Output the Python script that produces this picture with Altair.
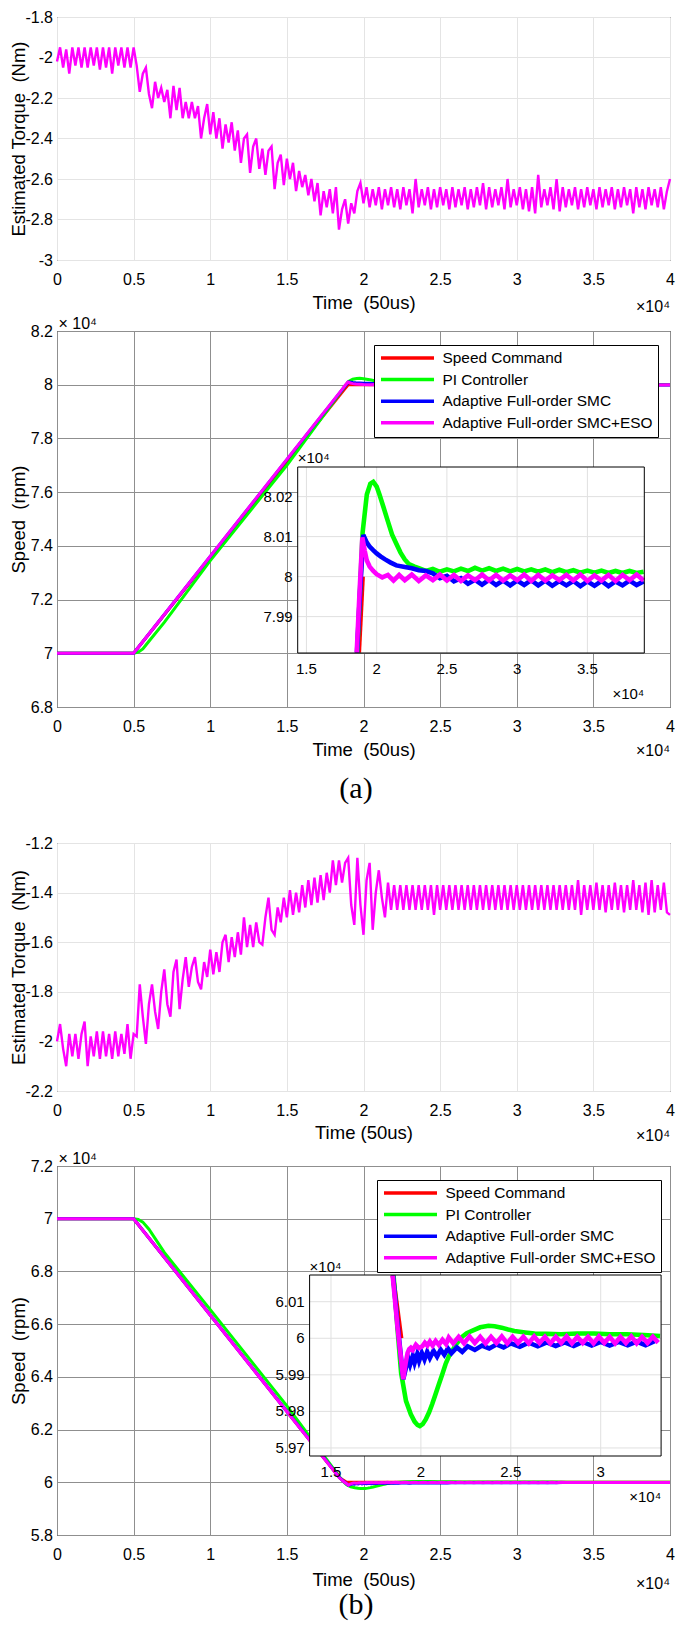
import altair as alt
import pandas as pd

FONT = "Liberation Sans"
W = 613
H1, H2, H3, H4 = 243, 376, 248, 369
SP1, SP2, SP3, SP4 = 71, 136, 75, 70

TIME_TICKS = [0, 0.5, 1, 1.5, 2, 2.5, 3, 3.5, 4]
TORQUE_A_TICKS = [-3, -2.8, -2.6, -2.4, -2.2, -2, -1.8]
TORQUE_B_TICKS = [-2.2, -2, -1.8, -1.6, -1.4, -1.2]
SPEED_A_TICKS = [6.8, 7, 7.2, 7.4, 7.6, 7.8, 8, 8.2]
SPEED_B_TICKS = [5.8, 6, 6.2, 6.4, 6.6, 6.8, 7, 7.2]
INSET_A_XTICKS = [1.5, 2, 2.5, 3, 3.5]
INSET_A_YTICKS = [7.99, 8.0, 8.01, 8.02]
INSET_B_XTICKS = [1.5, 2, 2.5, 3]
INSET_B_YTICKS = [5.97, 5.98, 5.99, 6.0, 6.01]

SERIES = ["Speed Command", "PI Controller", "Adaptive Full-order SMC", "Adaptive Full-order SMC+ESO"]
COLORS = ["#ff0000", "#00ff00", "#0000ff", "#ff00ff"]

# estimated torque samples, one every 0.02 (x10^4 steps)
TORQUE_STEP = 0.02
torque_a = [
    -2.02, -1.95, -2.05, -1.96, -2.08, -1.95, -2.04, -1.95, -2.05, -1.95,
    -2.05, -1.95, -2.04, -1.95, -2.06, -1.95, -2.05, -1.95, -2.08, -1.95,
    -2.04, -1.95, -2.05, -1.95, -2.05, -1.95, -2.04, -2.17, -2.08, -2.05,
    -2.18, -2.25, -2.12, -2.2, -2.15, -2.22, -2.16, -2.3, -2.14, -2.26,
    -2.15, -2.3, -2.22, -2.3, -2.22, -2.3, -2.24, -2.4, -2.3, -2.23,
    -2.38, -2.27, -2.4, -2.3, -2.45, -2.33, -2.42, -2.32, -2.46, -2.36,
    -2.52, -2.4, -2.38, -2.57, -2.44, -2.4, -2.55, -2.45, -2.58, -2.46,
    -2.44, -2.65, -2.52, -2.48, -2.63, -2.5, -2.6, -2.52, -2.66, -2.56,
    -2.64, -2.58, -2.68, -2.6, -2.71, -2.62, -2.78, -2.66, -2.74, -2.65,
    -2.77, -2.64, -2.85, -2.75, -2.7, -2.82, -2.72, -2.77, -2.66, -2.62,
    -2.72, -2.64, -2.74, -2.65, -2.73, -2.64, -2.75, -2.65, -2.73, -2.64,
    -2.74, -2.65, -2.75, -2.64, -2.73, -2.65, -2.77, -2.6, -2.74, -2.65,
    -2.73, -2.64, -2.75, -2.65, -2.74, -2.64, -2.73, -2.65, -2.75, -2.64,
    -2.74, -2.65, -2.73, -2.64, -2.75, -2.65, -2.74, -2.64, -2.73, -2.62,
    -2.75, -2.64, -2.74, -2.65, -2.73, -2.64, -2.75, -2.6, -2.74, -2.65,
    -2.73, -2.64, -2.75, -2.65, -2.76, -2.64, -2.77, -2.58, -2.74, -2.65,
    -2.73, -2.64, -2.75, -2.6, -2.76, -2.64, -2.74, -2.65, -2.73, -2.64,
    -2.75, -2.65, -2.74, -2.64, -2.73, -2.65, -2.75, -2.64, -2.74, -2.65,
    -2.73, -2.64, -2.75, -2.65, -2.74, -2.64, -2.73, -2.65, -2.77, -2.64,
    -2.74, -2.65, -2.75, -2.64, -2.73, -2.65, -2.74, -2.64, -2.75, -2.66,
    -2.6,
]
torque_b = [
    -2.0, -1.93, -2.03, -2.1, -1.97, -2.06, -1.97, -2.07, -1.97, -1.92,
    -2.1, -1.98, -2.06, -1.96, -2.07, -1.96, -2.06, -1.97, -2.07, -1.96,
    -2.06, -1.97, -2.05, -1.93, -2.07, -1.97, -1.98, -1.77, -1.9, -2.01,
    -1.85, -1.77, -1.88, -1.95, -1.8, -1.71, -1.85, -1.9, -1.72, -1.67,
    -1.87, -1.75, -1.66, -1.78, -1.7, -1.66, -1.76, -1.79, -1.68, -1.74,
    -1.63, -1.73, -1.64, -1.72, -1.6, -1.57, -1.68, -1.58, -1.66, -1.56,
    -1.65, -1.5, -1.62, -1.53, -1.62, -1.52, -1.6, -1.61, -1.5, -1.42,
    -1.55, -1.57, -1.46, -1.52, -1.42, -1.5, -1.39, -1.49, -1.4, -1.48,
    -1.37, -1.46, -1.35, -1.45, -1.34, -1.44, -1.33, -1.43, -1.32, -1.4,
    -1.27, -1.37, -1.27, -1.36, -1.28, -1.26, -1.45, -1.53, -1.26, -1.45,
    -1.57, -1.35, -1.28, -1.55, -1.4, -1.31, -1.42, -1.5, -1.36, -1.47,
    -1.37, -1.47, -1.37, -1.47, -1.37, -1.47, -1.37, -1.47, -1.37, -1.47,
    -1.37, -1.47, -1.37, -1.49, -1.37, -1.47, -1.37, -1.47, -1.37, -1.47,
    -1.37, -1.47, -1.37, -1.47, -1.37, -1.47, -1.37, -1.47, -1.37, -1.47,
    -1.37, -1.47, -1.37, -1.47, -1.37, -1.47, -1.37, -1.47, -1.37, -1.47,
    -1.37, -1.47, -1.37, -1.47, -1.37, -1.47, -1.37, -1.47, -1.37, -1.47,
    -1.37, -1.47, -1.37, -1.47, -1.37, -1.47, -1.37, -1.47, -1.37, -1.47,
    -1.35, -1.49, -1.37, -1.47, -1.37, -1.47, -1.36, -1.47, -1.37, -1.48,
    -1.37, -1.47, -1.36, -1.47, -1.37, -1.48, -1.37, -1.47, -1.35, -1.47,
    -1.37, -1.48, -1.36, -1.49, -1.35, -1.48, -1.37, -1.47, -1.36, -1.48,
    -1.49,
]

# speed (x10^4 rpm) vs time (x10^4 steps), (a) acceleration
cmd_a = [(0, 7.0), (0.5, 7.0), (1.873, 7.981), (1.9, 8.0), (4.0, 8.0)]
pi_a = [(0, 7.0), (0.5, 7.0), (0.53, 7.004), (0.56, 7.016), (0.6, 7.045), (0.7, 7.115),
        (1.0, 7.345), (1.5, 7.7), (1.862, 7.981), (1.9, 8.011), (1.93, 8.0205), (1.955, 8.0232),
        (1.976, 8.0237), (2.0, 8.0225), (2.02, 8.0205), (2.05, 8.0172), (2.08, 8.0138), (2.11, 8.0105),
        (2.14, 8.0082), (2.17, 8.006), (2.2, 8.0043), (2.23, 8.0031), (2.27, 8.0025), (2.3, 8.0021),
        (2.35, 8.0014), (2.4, 8.0019), (2.45, 8.0012), (2.5, 8.0018), (2.55, 8.0013), (2.6, 8.002),
        (2.65, 8.0014), (2.7, 8.0022), (2.75, 8.0015), (2.8, 8.0021), (2.85, 8.0014), (2.9, 8.002),
        (2.95, 8.0013), (3.0, 8.0019), (3.05, 8.0013), (3.1, 8.0018), (3.15, 8.0012), (3.2, 8.0018),
        (3.25, 8.0011), (3.3, 8.0017), (3.35, 8.0011), (3.4, 8.0016), (3.45, 8.001), (3.5, 8.0015),
        (3.55, 8.001), (3.6, 8.0015), (3.65, 8.0009), (3.7, 8.0014), (3.75, 8.0009), (3.8, 8.0014),
        (3.85, 8.0009), (3.9, 8.0012), (4.0, 8.0011)]
smc_a = [(0, 7.0), (0.5, 7.0), (1.86, 7.981), (1.88, 7.995), (1.905, 8.0104), (1.93, 8.0085),
         (1.95, 8.0075), (1.975, 8.0066), (2.0, 8.0058), (2.03, 8.005), (2.06, 8.0043), (2.1, 8.0035),
         (2.14, 8.0028), (2.2, 8.0024), (2.25, 8.0021), (2.3, 8.0016), (2.35, 8.0014), (2.4, 8.0008),
         (2.45, 7.9996), (2.5, 8.0002), (2.55, 7.9988), (2.6, 7.9996), (2.65, 7.9982), (2.7, 7.9992),
         (2.75, 7.998), (2.8, 7.9992), (2.85, 7.9979), (2.9, 7.999), (2.95, 7.9978), (3.0, 7.999),
         (3.05, 7.9979), (3.1, 7.9991), (3.15, 7.9978), (3.2, 7.999), (3.25, 7.9977), (3.3, 7.9989),
         (3.35, 7.9978), (3.4, 7.9989), (3.45, 7.9976), (3.5, 7.9988), (3.55, 7.9977), (3.6, 7.9989),
         (3.65, 7.9976), (3.7, 7.9988), (3.75, 7.9978), (3.8, 7.999), (3.85, 7.9979), (3.9, 7.9988),
         (4.0, 7.9985)]
eso_a = [(0, 7.0), (0.5, 7.0), (1.858, 7.981), (1.878, 7.996), (1.898, 8.0098), (1.915, 8.0065),
         (1.93, 8.004), (1.95, 8.0025), (1.976, 8.0014), (2.0, 8.0006), (2.04, 7.9998), (2.08, 8.0004),
         (2.12, 7.999), (2.16, 8.0004), (2.2, 7.9991), (2.25, 8.0005), (2.3, 7.9989), (2.35, 8.0003),
         (2.4, 7.9991), (2.45, 8.0005), (2.5, 7.999), (2.55, 8.0004), (2.6, 7.9989), (2.65, 8.0003),
         (2.7, 7.9991), (2.75, 8.0005), (2.8, 7.999), (2.85, 8.0004), (2.9, 7.999), (2.95, 8.0003),
         (3.0, 7.9991), (3.05, 8.0005), (3.1, 7.9989), (3.15, 8.0004), (3.2, 7.999), (3.25, 8.0003),
         (3.3, 7.9991), (3.35, 8.0004), (3.4, 7.999), (3.45, 8.0005), (3.5, 7.9989), (3.55, 8.0003),
         (3.6, 7.999), (3.65, 8.0004), (3.7, 7.9989), (3.75, 8.0004), (3.8, 7.9991), (3.85, 8.0005),
         (3.9, 7.999), (4.0, 7.9998)]

# (b) deceleration
cmd_b = [(0, 7.0), (0.5, 7.0), (1.844, 6.0172), (1.89, 6.0), (4.0, 6.0)]
pi_b = [(0, 7.0), (0.5, 7.0), (0.53, 6.997), (0.56, 6.987), (0.6, 6.96), (0.7, 6.872), (1.0, 6.655),
        (1.5, 6.29), (1.848, 6.0172), (1.87, 6.0025), (1.89, 5.9905), (1.917, 5.9829), (1.944, 5.9792),
        (1.965, 5.9772), (1.981, 5.9763), (1.994, 5.976), (2.01, 5.9765), (2.027, 5.9778), (2.045, 5.9797),
        (2.063, 5.982), (2.08, 5.9845), (2.1, 5.9874), (2.12, 5.9903), (2.137, 5.9929), (2.155, 5.995),
        (2.174, 5.9965), (2.2, 5.9986), (2.229, 6.0004), (2.255, 6.0014), (2.284, 6.002), (2.33, 6.003),
        (2.376, 6.0034), (2.41, 6.0033), (2.449, 6.0029), (2.485, 6.0024), (2.52, 6.002), (2.58, 6.0016),
        (2.632, 6.0013), (2.7, 6.0012), (2.78, 6.0011), (2.87, 6.0013), (2.963, 6.0013), (3.05, 6.0011),
        (3.146, 6.0011), (3.24, 6.0009), (3.33, 6.0006), (4.0, 6.0004)]
smc_b = [(0, 7.0), (0.5, 7.0), (1.845, 6.0172), (1.872, 6.003), (1.902, 5.9888), (1.915, 5.9915),
         (1.93, 5.9945), (1.94, 5.9928), (1.955, 5.9952), (1.965, 5.9933), (1.98, 5.9957), (1.99, 5.9938),
         (2.005, 5.996), (2.02, 5.9942), (2.035, 5.9963), (2.05, 5.9946), (2.07, 5.9966), (2.09, 5.995),
         (2.11, 5.9969), (2.13, 5.9955), (2.15, 5.9972), (2.17, 5.9959), (2.2, 5.9975), (2.23, 5.9963),
         (2.26, 5.9978), (2.3, 5.9968), (2.34, 5.998), (2.38, 5.9972), (2.42, 5.9983), (2.46, 5.9975),
         (2.5, 5.9986), (2.55, 5.9977), (2.6, 5.9988), (2.65, 5.9978), (2.7, 5.9989), (2.75, 5.9979),
         (2.8, 5.9989), (2.85, 5.9979), (2.9, 5.999), (2.95, 5.998), (3.0, 5.999), (3.05, 5.998),
         (3.1, 5.999), (3.15, 5.9981), (3.2, 5.9991), (3.25, 5.9981), (3.3, 5.9992), (4.0, 5.9988)]
eso_b = [(0, 7.0), (0.5, 7.0), (1.843, 6.0172), (1.87, 6.003), (1.902, 5.9888), (1.915, 5.9932),
         (1.926, 5.996), (1.935, 5.997), (1.944, 5.9974), (1.955, 5.9968), (1.972, 5.9982), (1.99, 5.9973),
         (2.008, 5.9978), (2.022, 5.9988), (2.036, 5.998), (2.05, 5.9991), (2.065, 5.998), (2.082, 5.9993),
         (2.1, 5.9982), (2.12, 5.9996), (2.14, 5.9984), (2.155, 6.0002), (2.18, 5.9986), (2.21, 6.0004),
         (2.24, 5.9986), (2.27, 6.0005), (2.3, 5.9987), (2.33, 6.0004), (2.36, 5.9986), (2.39, 6.0004),
         (2.42, 5.9987), (2.45, 6.0005), (2.48, 5.9986), (2.51, 6.0004), (2.54, 5.9987), (2.57, 6.0004),
         (2.6, 5.9986), (2.63, 6.0005), (2.66, 5.9987), (2.69, 6.0004), (2.72, 5.9986), (2.75, 6.0004),
         (2.78, 5.9987), (2.81, 6.0005), (2.84, 5.9986), (2.87, 6.0004), (2.9, 5.9987), (2.93, 6.0004),
         (2.96, 5.9986), (2.99, 6.0005), (3.02, 5.9987), (3.05, 6.0004), (3.08, 5.9986), (3.11, 6.0004),
         (3.14, 5.9987), (3.17, 6.0005), (3.2, 5.9986), (3.23, 6.0004), (3.26, 5.9987), (3.29, 6.0004),
         (3.32, 5.9988), (4.0, 5.9996)]

LABEL_EXPR = "'' + datum.value"


def x_axis(title, title_y, grid_color):
    return alt.Axis(values=TIME_TICKS, labelExpr=LABEL_EXPR, title=title, titleY=title_y,
                    titleBaseline="middle", labelFlush=False, labelOverlap=False, ticks=False,
                    tickSize=0, domain=False, grid=True, gridColor=grid_color, gridWidth=1,
                    labelPadding=11.5, labelFont=FONT, labelFontSize=16, labelColor="black",
                    titleFont=FONT, titleFontSize=18.5, titleFontWeight="normal", titleColor="black")


def y_axis(values, title, h, grid_color):
    return alt.Axis(values=values, labelExpr=LABEL_EXPR, title=title, titleX=-39, titleY=h / 2,
                    titleAngle=270, titleBaseline="middle", titleAlign="center", labelFlush=False,
                    labelOverlap=False, labelSeparation=0, ticks=False, tickSize=0, domain=False,
                    grid=True, gridColor=grid_color, gridWidth=1, labelPadding=4.5, labelFont=FONT,
                    labelFontSize=16, labelColor="black", titleFont=FONT, titleFontSize=18.5,
                    titleFontWeight="normal", titleColor="black")


def frame(h):
    return dict(width=W, height=h, view=alt.ViewBackground(stroke="black", strokeWidth=1))


def torque_panel(vals, ydom, yticks, ytitle, xtitle, h, title_y, e4_dy):
    df = pd.DataFrame({"t": [round(i * TORQUE_STEP, 2) for i in range(len(vals))], "v": vals})
    xs = alt.Scale(domain=[0, 4], nice=False, zero=False)
    ys = alt.Scale(domain=ydom, nice=False, zero=False)
    line = alt.Chart(df).mark_line(color="#ff00ff", strokeWidth=2.4).encode(
        x=alt.X("t:Q", scale=xs, axis=x_axis(xtitle, title_y, "#e4e4e4")),
        y=alt.Y("v:Q", scale=ys, axis=y_axis(yticks, ytitle, h, "#e4e4e4")),
    )
    e4 = alt.Chart(pd.DataFrame({"t": [4], "v": [ydom[0]], "lab": ["×10⁴"]})).mark_text(
        align="right", baseline="middle", dy=e4_dy, font=FONT, fontSize=16, color="black"
    ).encode(x=alt.X("t:Q", scale=xs), y=alt.Y("v:Q", scale=ys), text="lab:N")
    return alt.layer(line, e4).properties(**frame(h))


def speed_panel(series, ydom, yticks, h, title_y, e4_dy, legend_right, ixd, iyd, ixf, iyf,
                ixticks, iyticks, i_e4_top_dy):
    color_legend = alt.Legend(title=None, orient="none", legendX=W - legend_right, legendY=14,
                              direction="vertical", fillColor="white", strokeColor="black",
                              padding=5, symbolType="stroke", symbolSize=2809,
                              symbolStrokeWidth=3.5, clipHeight=16, rowPadding=4.6,
                              labelOffset=6.5, labelFont=FONT, labelFontSize=15.4,
                              labelColor="black", labelLimit=400, cornerRadius=0)
    color = alt.Color("s:N", scale=alt.Scale(domain=SERIES, range=COLORS), legend=color_legend)
    xs = alt.Scale(domain=[0, 4], nice=False, zero=False)
    ys = alt.Scale(domain=ydom, nice=False, zero=False)
    ixs = alt.Scale(domain=ixd, range=[round(ixf[0] * W, 1), round(ixf[1] * W, 1)], nice=False, zero=False)
    iys = alt.Scale(domain=iyd, range=[round(iyf[1] * h, 1), round(iyf[0] * h, 1)], nice=False, zero=False)

    main_layers = []
    inset_lines = []
    for name, pts in zip(SERIES, series):
        df = pd.DataFrame({"t": [p[0] for p in pts], "v": [p[1] for p in pts], "s": name})
        main_layers.append(alt.Chart(df).mark_line(strokeWidth=3).encode(
            x=alt.X("t:Q", scale=xs, axis=x_axis("Time\u00a0 (50us)", title_y, "#8f8f8f")),
            y=alt.Y("v:Q", scale=ys, axis=y_axis(yticks, "Speed\u00a0 (rpm)", h, "#8f8f8f")),
            color=color,
        ))
        dfi = df[(df.t >= ixd[0]) & (df.t <= ixd[1]) & (df.v >= iyd[0]) & (df.v <= iyd[1])]
        inset_lines.append(alt.Chart(dfi).mark_line(strokeWidth=4.6).encode(
            x=alt.X("t:Q", scale=ixs, axis=None), y=alt.Y("v:Q", scale=iys, axis=None), color=color,
        ))
    e4 = pd.DataFrame({"t": [0, 4], "v": [ydom[1], ydom[0]], "lab": ["× 10⁴", "×10⁴"]})
    main_layers.append(alt.Chart(e4.iloc[[0]]).mark_text(
        align="left", baseline="alphabetic", dx=1.5, dy=-2.5, font=FONT, fontSize=16, color="black"
    ).encode(x=alt.X("t:Q", scale=xs), y=alt.Y("v:Q", scale=ys), text="lab:N"))
    main_layers.append(alt.Chart(e4.iloc[[1]]).mark_text(
        align="right", baseline="middle", dy=e4_dy, font=FONT, fontSize=16, color="black"
    ).encode(x=alt.X("t:Q", scale=xs), y=alt.Y("v:Q", scale=ys), text="lab:N"))
    main = alt.layer(*main_layers)

    box = pd.DataFrame({"x0": [ixd[0]], "x1": [ixd[1]], "y0": [iyd[0]], "y1": [iyd[1]]})
    bg = alt.Chart(box).mark_rect(fill="white", strokeOpacity=0).encode(
        x=alt.X("x0:Q", scale=ixs, axis=None), x2="x1:Q",
        y=alt.Y("y0:Q", scale=iys, axis=None), y2="y1:Q")
    outline = alt.Chart(box).mark_rect(fillOpacity=0, stroke="black", strokeWidth=1).encode(
        x=alt.X("x0:Q", scale=ixs, axis=None), x2="x1:Q",
        y=alt.Y("y0:Q", scale=iys, axis=None), y2="y1:Q")
    vg = pd.DataFrame({"g": ixticks, "a": iyd[0], "b": iyd[1]})
    hg = pd.DataFrame({"g": iyticks, "a": ixd[0], "b": ixd[1]})
    vgrid = alt.Chart(vg).mark_rule(color="#e0e0e0", strokeWidth=1).encode(
        x=alt.X("g:Q", scale=ixs, axis=None), y=alt.Y("a:Q", scale=iys, axis=None), y2="b:Q")
    hgrid = alt.Chart(hg).mark_rule(color="#e0e0e0", strokeWidth=1).encode(
        y=alt.Y("g:Q", scale=iys, axis=None), x=alt.X("a:Q", scale=ixs, axis=None), x2="b:Q")
    xl = pd.DataFrame({"x": ixticks, "y": iyd[0], "lab": [f"{v:g}" for v in ixticks]})
    yl = pd.DataFrame({"y": iyticks, "x": ixd[0], "lab": [f"{v:g}" for v in iyticks]})
    xlab = alt.Chart(xl).mark_text(baseline="middle", dy=16, font=FONT, fontSize=15, color="black").encode(
        x=alt.X("x:Q", scale=ixs, axis=None), y=alt.Y("y:Q", scale=iys, axis=None), text="lab:N")
    ylab = alt.Chart(yl).mark_text(align="right", baseline="middle", dx=-5, font=FONT, fontSize=15,
                                   color="black").encode(
        x=alt.X("x:Q", scale=ixs, axis=None), y=alt.Y("y:Q", scale=iys, axis=None), text="lab:N")
    ie4 = pd.DataFrame({"x": [ixd[0], ixd[1]], "y": [iyd[1], iyd[0]], "lab": ["×10⁴", "×10⁴"]})
    ie4_top = alt.Chart(ie4.iloc[[0]]).mark_text(align="left", baseline="alphabetic", dy=i_e4_top_dy,
                                                 font=FONT, fontSize=15, color="black").encode(
        x=alt.X("x:Q", scale=ixs, axis=None), y=alt.Y("y:Q", scale=iys, axis=None), text="lab:N")
    ie4_bot = alt.Chart(ie4.iloc[[1]]).mark_text(align="right", baseline="middle", dy=41,
                                                 font=FONT, fontSize=15, color="black").encode(
        x=alt.X("x:Q", scale=ixs, axis=None), y=alt.Y("y:Q", scale=iys, axis=None), text="lab:N")
    inset = alt.layer(bg, vgrid, hgrid, *inset_lines, outline, xlab, ylab, ie4_top, ie4_bot)

    return alt.layer(main, inset).resolve_scale(x="independent", y="independent").properties(**frame(h))


def spacer(h, label="", y=0):
    return alt.Chart(pd.DataFrame({"c": [label]})).mark_text(
        font="Liberation Serif", fontSize=30, color="black", baseline="middle"
    ).encode(text="c:N", x=alt.value(round(W * 0.487)), y=alt.value(y)).properties(
        width=W, height=h, view=alt.ViewBackground(stroke="transparent"))


p1 = torque_panel(torque_a, [-3, -1.8], TORQUE_A_TICKS, "Estimated Torque\u00a0 (Nm)",
                  "Time\u00a0 (50us)", H1, 42.7, 46.5)
p2 = speed_panel([cmd_a, pi_a, smc_a, eso_a], [6.8, 8.2], SPEED_A_TICKS, H2, 42, 44, 296,
                 [1.438, 3.905], [7.9809, 8.0274], [0.3926, 0.958], [0.3617, 0.8564],
                 INSET_A_XTICKS, INSET_A_YTICKS, -4)
p3 = torque_panel(torque_b, [-2.2, -1.2], TORQUE_B_TICKS, "Estimated Torque\u00a0 (Nm)",
                  "Time (50us)", H3, 41.7, 45)
p4 = speed_panel([cmd_b, pi_b, smc_b, eso_b], [5.8, 7.2], SPEED_B_TICKS, H4, 44, 49, 293,
                 [1.381, 3.336], [5.9678, 6.0173], [0.412, 0.9855], [0.2954, 0.7859],
                 INSET_B_XTICKS, INSET_B_YTICKS, -3)

chart = alt.vconcat(
    p1, spacer(SP1), p2, spacer(SP2, "(a)", 82), p3, spacer(SP3), p4, spacer(SP4, "(b)", 70),
    spacing=0, bounds="flush",
).resolve_scale(color="independent").properties(padding=0).configure_view(
    stroke="transparent").configure_axis(labelOverlap=False, labelFlush=False)

chart.save("out.html", embed_options={"renderer": "svg", "actions": False})
